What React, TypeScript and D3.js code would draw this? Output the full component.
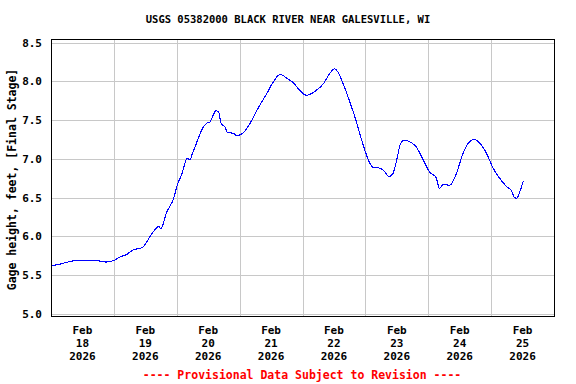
import React from "react";
import * as d3 from "d3";

const title = "USGS 05382000 BLACK RIVER NEAR GALESVILLE, WI";
const yAxisLabel = "Gage height, feet, [Final Stage]";
const footer = "---- Provisional Data Subject to Revision ----";

// hours since 2026-02-18 00:00
const hours = [
  0, 3, 10, 17, 19, 21, 24, 26, 29, 31, 35, 36.5, 40, 41, 42, 44, 47, 48, 50, 52, 53, 54, 55.5, 57.5,
  59.5, 60.5, 63, 64, 65, 66.5, 67.25, 69.5, 71, 73.5, 76, 79, 82.5, 85, 87.5, 90, 92.5, 95, 97.5,
  100.75, 104, 106, 108.25, 109.5, 111.5, 114, 116, 118, 120, 121.75, 123, 125.5, 127.5, 129, 130.5,
  132, 133.25, 134.75, 137, 139.5, 142, 144.5, 147, 148.25, 149.75, 152.25, 154.75, 157.25, 159.25,
  161.5, 163.75, 166.25, 168.75, 171.25, 174, 175.75, 176.75, 177.75, 179, 180.25,
];
const stage = [
  5.62, 5.64, 5.69, 5.69, 5.68, 5.67, 5.69, 5.73, 5.77, 5.82, 5.86, 5.93, 6.1, 6.13, 6.1, 6.3, 6.51,
  6.64, 6.81, 7.01, 6.99, 7.07, 7.2, 7.37, 7.46, 7.47, 7.62, 7.6, 7.45, 7.41, 7.34, 7.33, 7.3, 7.34,
  7.46, 7.65, 7.85, 8.0, 8.09, 8.04, 7.98, 7.88, 7.82, 7.87, 7.97, 8.08, 8.16, 8.12, 7.97, 7.74, 7.54,
  7.31, 7.09, 6.94, 6.89, 6.88, 6.83, 6.77, 6.81, 6.99, 7.18, 7.24, 7.22, 7.15, 6.99, 6.83, 6.76,
  6.62, 6.67, 6.66, 6.81, 7.07, 7.2, 7.25, 7.2, 7.07, 6.88, 6.75, 6.64, 6.59, 6.51, 6.49, 6.58, 6.71,
];
const yTicks = [5.0, 5.5, 6.0, 6.5, 7.0, 7.5, 8.0, 8.5];
const dayLabels = ["18", "19", "20", "21", "22", "23", "24", "25"];
const monthLabel = "Feb";
const yearLabel = "2026";

const start = Date.UTC(2026, 1, 18);
const end = Date.UTC(2026, 1, 26);

export default function App() {
  const W = 576, H = 384;
  const left = 51, right = 554, top = 39, bottom = 316;
  const x = d3.scaleUtc().domain([new Date(start), new Date(end)]).range([left, right]);
  const y = d3.scaleLinear().domain([5, 8.5]).range([314, 42.5]);
  const data = hours.map((h, i) => ({ t: new Date(start + h * 3600000), v: stage[i] }));
  const line = d3
    .line<{ t: Date; v: number }>()
    .x((d) => x(d.t))
    .y((d) => y(d.v))
    .curve(d3.curveMonotoneX);
  const days = d3.utcDay.range(new Date(start), new Date(end + 1));
  const font = "'DejaVu Sans Mono', monospace";
  return (
    <svg
      width={W}
      height={H}
      style={{ position: "absolute", left: 0, top: 0, background: "#fff" }}
      fontFamily={font}
      fontWeight="bold"
    >
      <rect x={0} y={0} width={W} height={H} fill="#fff" />
      {yTicks.map((t) => (
        <line key={"h" + t} x1={left} x2={right} y1={Math.round(y(t)) + 0.5} y2={Math.round(y(t)) + 0.5} stroke="#c8c8c8" />
      ))}
      {days.map((d, i) => (
        <line key={"v" + i} x1={Math.round(x(d)) + 0.5} x2={Math.round(x(d)) + 0.5} y1={top} y2={bottom} stroke="#c8c8c8" />
      ))}
      <path d={line(data) || ""} fill="none" stroke="#0000ff" strokeWidth={1.1} shapeRendering="crispEdges" />
      <rect x={left + 0.5} y={top + 0.5} width={right - left} height={bottom - top} fill="none" stroke="#000" strokeWidth={1} />
      {yTicks.map((t) => (
        <text key={"yt" + t} x={42} y={y(t) + 4} textAnchor="end" fontSize={11} fill="#000">
          {t.toFixed(1)}
        </text>
      ))}
      {dayLabels.map((dl, i) => {
        const cx = x(new Date(start + (i * 24 + 12) * 3600000));
        return (
          <g key={"xt" + i} fontSize={11} fill="#000" textAnchor="middle">
            <text x={cx} y={334}>{monthLabel}</text>
            <text x={cx} y={347}>{dl}</text>
            <text x={cx} y={360}>{yearLabel}</text>
          </g>
        );
      })}
      <text x={288} y={23} textAnchor="middle" fontSize={10.5} fill="#000">
        {title}
      </text>
      <text
        transform={`translate(16, ${(top + bottom) / 2 + 2}) rotate(-90)`}
        textAnchor="middle"
        fontSize={11.5}
        fill="#000"
      >
        {yAxisLabel}
      </text>
      <text x={302} y={379} textAnchor="middle" fontSize={11.5} fill="#ff0000">
        {footer}
      </text>
    </svg>
  );
}
